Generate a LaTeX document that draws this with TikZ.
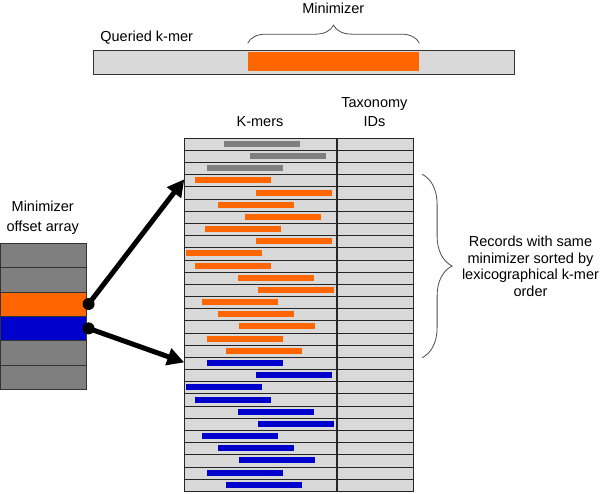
\documentclass[tikz,border=0pt]{standalone}
\usepackage{fontspec}
\setmainfont{Liberation Sans}
\usetikzlibrary{positioning,arrows.meta,decorations.pathreplacing}

\definecolor{cellgray}{HTML}{D9D9D9}
\definecolor{darkbar}{HTML}{7F7F7F}
\definecolor{minorange}{HTML}{FF6600}
\definecolor{minblue}{HTML}{0000CC}

\begin{document}
\begin{tikzpicture}[x=1pt,y=-1pt,
    every node/.style={font=\fontsize{14.5}{17}\selectfont,inner sep=0pt},
    kcell/.style={draw=black!85,line width=.8pt,fill=cellgray,
        minimum width=152pt,minimum height=12.18pt,anchor=north west},
    tcell/.style={kcell,minimum width=76.2pt},
    acell/.style={draw=black!80,line width=.6pt,fill=darkbar,
        minimum width=85.5pt,minimum height=24.4pt,anchor=north west},
    kbar/.style={minimum width=76pt,minimum height=6pt,anchor=west},
    dot/.style={circle,fill=black,minimum size=12pt},
    bigarrow/.style={line width=5pt,-{Triangle[length=17pt,width=17pt]}},
    bracestyle/.style={draw=black!70,line width=.8pt,decorate}
    ]

    % white page with the reference's margins
    \fill[white] (0,0) rectangle (600,493);
    \useasboundingbox (0,0) rectangle (600,493);

    %queried k-mer and its minimizer
    \node[draw=black!80,fill=cellgray,line width=.8pt,minimum width=421pt,
        minimum height=24.3pt,anchor=north west] (query) at (92.7,50) {};
    \node[fill=minorange,minimum width=171.3pt,minimum height=18.7pt,
        anchor=west] (mini) at (247.7,61.7) {};
    \node[anchor=base west] (qlabel) at (100.2,41.7) {Queried k-mer};
    \draw[bracestyle,decoration={brace,amplitude=18pt}]
        ([yshift=9pt]mini.north west) -- ([yshift=9pt]mini.north east);
    \node[anchor=base] (mlabel) at (333.3,13.5) {Minimizer};

    %table headers
    \node[anchor=base] (khead) at (260,126.7) {K-mers};
    \node[anchor=base] (thead) at (374.4,107.3) {Taxonomy};
    \node[anchor=base] (thead2) at (374.4,126.7) {IDs};

    %records: start of k-mer bar / colour
    \foreach \s/\c [count=\i] in {223.7/darkbar,249.3/darkbar,207/darkbar,
        195/minorange,256/minorange,217.7/minorange,245/minorange,
        204.7/minorange,256/minorange,186/minorange,195/minorange,
        237.3/minorange,257.3/minorange,201.7/minorange,217.7/minorange,
        239/minorange,207/minorange,226/minorange,
        207/minblue,256/minblue,186/minblue,195/minblue,237.3/minblue,
        257.3/minblue,201.7/minblue,217.7/minblue,239/minblue,207/minblue,
        226/minblue}{
        \node[kcell] (k\i) at (184.3,{137.7+(\i-1)*12.18}) {};
        \node[tcell] (t\i) at (k\i.north east) {};
        \node[kbar,fill=\c] (b\i) at (\s,{137.7+(\i-0.5)*12.18}) {};
    }

    %minimizer offset array
    \node[anchor=base] (alabel) at (42.7,211.7) {Minimizer};
    \node[anchor=base] (alabel2) at (42.7,231.9) {offset array};
    \foreach \c [count=\i] in {darkbar,darkbar,minorange,minblue,darkbar,darkbar}
        \node[acell,fill=\c] (a\i) at (0.5,{242.7+(\i-1)*24.4}) {};

    %pointers into the table
    \node[dot,xshift=2pt] (oDot) at (a3.east) {};
    \node[dot,xshift=2pt] (bDot) at (a4.east) {};
    \draw[bigarrow] (oDot.center) -- ([yshift=1.5pt]k4.west);
    \draw[bigarrow] (bDot.center) -- ([yshift=1pt]k19.west);

    %records with the same minimizer
    \draw[bracestyle,decoration={brace,amplitude=30pt}]
        ([xshift=8pt]t4.north east) -- ([xshift=8pt]t18.south east);
    \node[anchor=base] (rlabel) at (530.5,246.7) {Records with same};
    \node[anchor=base] (rlabel2) at (530.5,263.3) {minimizer sorted by};
    \node[anchor=base] (rlabel3) at (530.5,279.7) {lexicographical k-mer};
    \node[anchor=base] (rlabel4) at (530.5,296.1) {order};
\end{tikzpicture}
\end{document}
